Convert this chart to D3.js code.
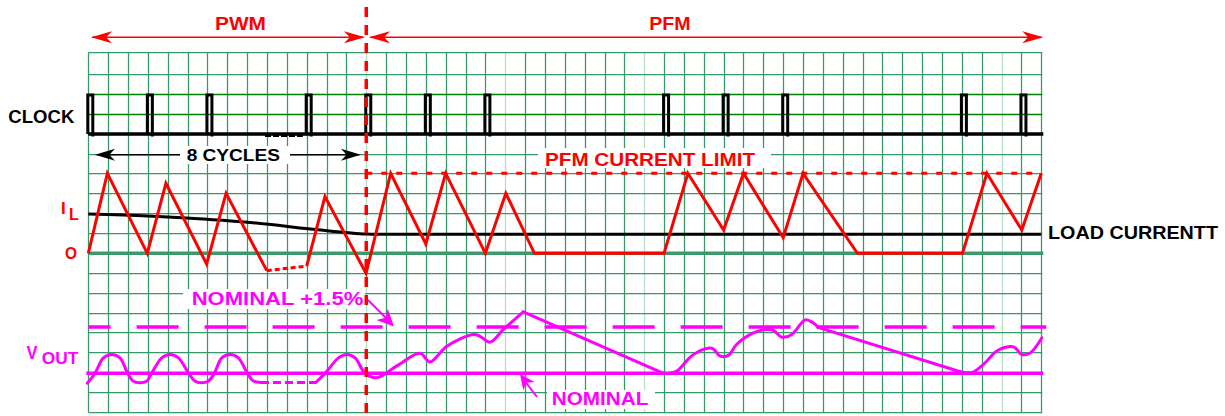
<!DOCTYPE html>
<html><head><meta charset="utf-8">
<script src="https://cdn.jsdelivr.net/npm/d3@7"></script>
<style>body{margin:0;background:#fff}svg{display:block}text{font-family:"Liberation Sans",Arial,Helvetica,sans-serif;font-weight:bold}</style>
</head><body>
<svg id="c" width="1225" height="416"></svg>
<script>
// ---------- data ----------
const gridCols = d3.range(0, 49);          // time divisions
const gridRows = d3.range(0, 18);          // vertical divisions
const darkRows = [1, 2];
const lightCols = [14, 21, 28, 46];
const modeBoundary = 14;                    // PWM -> PFM transition (division)
const clockPulses = [0, 3, 6, 11, 14, 17, 20, 29, 32, 35, 44, 47];
const pfmLimit = 1.0;                       // inductor current, normalised to PFM limit
const ilSolidA = [[0,0],[0.96,1],[2.97,0],[3.91,0.875],[5.96,-0.134],[6.94,0.75],[8.99,-0.217]];
const ilDashed = [[8.99,-0.217],[11.0,-0.159]];
const ilSolidB = [[11.0,-0.159],[11.92,0.708],[13.99,-0.25],[15.23,1],[17.0,0.116],[18.0,1],[20.0,0],[21.03,0.75],[22.47,0],[29.0,0],[30.2,1],[32.0,0.291],[33.0,1],[35.0,0.195],[36.0,1],[38.74,0],[44.03,0],[45.26,1],[47.02,0.291],[48,1]];
const loadFalling = [[0,0.49],[3,0.465],[6,0.425],[8.3,0.383],[11.7,0.29],[14,0.24],[15,0.238]];
const loadSteady = [[15,0.238],[48,0.238]];
const nominalPct = 0, upperPct = 1.5;       // Vout deviation, %
const voutRipplePWM = [[-0.05,-0.32],[0.34,0],[0.76,0.5],[1.18,0.61],[1.6,0.5],[1.98,0],[2.25,-0.25],[2.6,-0.31],[2.95,-0.25],[3.19,0],[3.7,0.5],[4.12,0.61],[4.54,0.5],[5.06,0],[5.36,-0.25],[5.71,-0.31],[6.06,-0.25],[6.35,0],[6.72,0.5],[7.14,0.61],[7.56,0.5],[8.01,0],[8.3,-0.24],[8.7,-0.30]];
const voutDashed = [[8.7,-0.30],[11.45,-0.30]];
const voutRise1 = [[11.45,-0.30],[11.93,0],[12.6,0.5],[13.02,0.61],[13.44,0.5],[13.94,0],[14.53,-0.14],[15.54,0.24],[16.71,0.65],[17.21,0.37],[18.06,0.88],[19.4,1.26],[19.73,1.2],[20.24,1.01],[20.91,1.42],[21.91,1.99]];
const voutDecay1 = [[21.91,1.99],[28.97,0]];
const voutRise2 = [[28.97,0],[29.27,0],[29.64,0.07],[30.48,0.61],[31.41,0.81],[31.82,0.56],[32.24,0.58],[32.66,0.94],[33.5,1.31],[34.18,1.42],[34.51,1.39],[34.93,1.17],[35.44,1.26],[36.11,1.73],[36.52,1.63],[36.76,1.49]];
const voutDecay2 = [[36.76,1.49],[43.92,0.05]];
const voutRise3 = [[43.92,0.05],[44.25,0.02],[44.58,0.04],[45.09,0.29],[45.76,0.72],[46.43,0.87],[46.68,0.83],[47.02,0.61],[47.44,0.66],[48.03,1.15]];

// ---------- scales ----------
const svg = d3.select("#c");
const x  = d3.scaleLinear().domain([0,48]).range([88.3,1041.3]);
const gy = d3.scaleLinear().domain([0,17]).range([74,412]);
const yC = d3.scaleLinear().domain([0,1]).range([134,95]);
const yI = d3.scaleLinear().domain([0,1]).range([253.3,173.3]);
const yV = d3.scaleLinear().domain([0,1.5]).range([373.3,327]);
const RED = "#ff0000", MAG = "#ff00ff", GRID = "#36996a";
const gridTop = 52.5;
const px = v => Math.round(v) + 0.5;

// ---------- grid ----------
const g = svg.append("g");
g.selectAll(".vl").data(gridCols).join("line")
  .attr("x1", d => px(x(d))).attr("x2", d => px(x(d))).attr("y1", gridTop).attr("y2", gy(17))
  .attr("stroke", d => lightCols.includes(d) ? "#b9dcc8" : GRID).attr("stroke-width", 1.25);
g.append("line").attr("x1", x(0)).attr("x2", x(48)+1).attr("y1", gridTop).attr("y2", gridTop)
  .attr("stroke", GRID).attr("stroke-width", 1.25);
g.selectAll(".hl").data(gridRows).join("line")
  .attr("x1", x(0)).attr("x2", x(48)+1).attr("y1", d => px(gy(d))).attr("y2", d => px(gy(d)))
  .attr("stroke", d => darkRows.includes(d) ? "#008000" : GRID).attr("stroke-width", d => darkRows.includes(d) ? 1.5 : 1.25);

// white label boxes over grid
const boxes = [[538,148,233,20],[183,289,182,20],[547,390,108,19]];
svg.selectAll(".bx").data(boxes).join("rect")
  .attr("x", d => d[0]).attr("y", d => d[1]).attr("width", d => d[2]).attr("height", d => d[3]).attr("fill", "#fff");

// ---------- helpers ----------
function arrowHead(tip, from, len, half, color) {
  const dx = tip[0]-from[0], dy = tip[1]-from[1], L = Math.hypot(dx, dy);
  const ux = dx/L, uy = dy/L, qx = -uy, qy = ux;
  const bx = tip[0]-ux*len, by = tip[1]-uy*len;
  const nx = tip[0]-ux*len*0.72, ny = tip[1]-uy*len*0.72;
  svg.append("path")
    .attr("d", `M${tip[0]},${tip[1]}L${bx+qx*half},${by+qy*half}L${nx},${ny}L${bx-qx*half},${by-qy*half}Z`)
    .attr("fill", color);
}
function arrowLine(a, b, color, w) {
  svg.append("line").attr("x1", a[0]).attr("y1", a[1]).attr("x2", b[0]).attr("y2", b[1])
    .attr("stroke", color).attr("stroke-width", w);
}
function label(txt, x0, base, size, color, width) {
  const t = svg.append("text").attr("x", x0).attr("y", base).attr("font-size", size).attr("fill", color).text(txt);
  if (width) t.attr("textLength", width).attr("lengthAdjust", "spacingAndGlyphs");
  return t;
}

// ---------- clock ----------
svg.append("line").attr("x1", x(0)).attr("x2", x(48)+2).attr("y1", yC(0)).attr("y2", yC(0))
  .attr("stroke", "#000").attr("stroke-width", 3.5);
svg.append("line").attr("x1", x(8.9)).attr("x2", x(10.8)).attr("y1", yC(0)+2).attr("y2", yC(0)+2)
  .attr("stroke", "#000").attr("stroke-width", 2).attr("stroke-dasharray", "6,2");
svg.selectAll(".pulse").data(clockPulses).join("path")
  .attr("d", d => `M${x(d)-0.5},${yC(0)}V${yC(1)}H${x(d)+4.5}V${yC(0)+2.5}`)
  .attr("fill", "none").attr("stroke", "#000").attr("stroke-width", 3);

// ---------- inductor current ----------
svg.append("line").attr("x1", x(0)).attr("x2", x(48)+2).attr("y1", yI(0)).attr("y2", yI(0))
  .attr("stroke", "#3a9a6a").attr("stroke-width", 3.5);
const lineI = d3.line().x(d => x(d[0])).y(d => yI(d[1]));
const lineLoad = d3.line().x(d => x(d[0])).y(d => yI(d[1])).curve(d3.curveCatmullRom);
svg.append("path").attr("d", lineLoad(loadFalling)).attr("fill", "none").attr("stroke", "#000").attr("stroke-width", 3);
svg.append("path").attr("d", lineI(loadSteady)).attr("fill", "none").attr("stroke", "#000").attr("stroke-width", 3);
svg.append("line").attr("x1", x(modeBoundary)).attr("x2", x(48)).attr("y1", yI(pfmLimit)).attr("y2", yI(pfmLimit))
  .attr("stroke", RED).attr("stroke-width", 3).attr("stroke-dasharray", "6,9");
svg.append("path").attr("d", lineI(ilSolidA)).attr("fill", "none").attr("stroke", RED).attr("stroke-width", 3);
svg.append("path").attr("d", lineI(ilDashed)).attr("fill", "none").attr("stroke", RED).attr("stroke-width", 3).attr("stroke-dasharray", "5,3");
svg.append("path").attr("d", lineI(ilSolidB)).attr("fill", "none").attr("stroke", RED).attr("stroke-width", 3);

// ---------- output voltage ----------
svg.append("line").attr("x1", x(0)-2).attr("x2", x(48)+2).attr("y1", yV(nominalPct)).attr("y2", yV(nominalPct))
  .attr("stroke", MAG).attr("stroke-width", 3.5);
svg.append("line").attr("x1", x(0)).attr("x2", x(48)+5).attr("y1", yV(upperPct)).attr("y2", yV(upperPct))
  .attr("stroke", MAG).attr("stroke-width", 3.5).attr("stroke-dasharray", "42,26").attr("stroke-dashoffset", 19.7);
const smoothV = d3.line().x(d => x(d[0])).y(d => yV(d[1])).curve(d3.curveCatmullRom.alpha(0.5));
const straightV = d3.line().x(d => x(d[0])).y(d => yV(d[1]));
[voutRipplePWM, voutRise1, voutRise2, voutRise3].forEach(s =>
  svg.append("path").attr("d", smoothV(s)).attr("fill", "none").attr("stroke", MAG).attr("stroke-width", 3).attr("stroke-linecap", "round"));
[voutDecay1, voutDecay2].forEach(s =>
  svg.append("path").attr("d", straightV(s)).attr("fill", "none").attr("stroke", MAG).attr("stroke-width", 3).attr("stroke-linecap", "round"));
svg.append("path").attr("d", straightV(voutDashed)).attr("fill", "none").attr("stroke", MAG).attr("stroke-width", 3).attr("stroke-dasharray", "8,4");

// ---------- mode boundary ----------
svg.append("line").attr("x1", x(modeBoundary)).attr("x2", x(modeBoundary)).attr("y1", 7).attr("y2", 414)
  .attr("stroke", RED).attr("stroke-width", 3.5).attr("stroke-dasharray", "10,8");

// ---------- arrows ----------
const yArr = 37.3;
arrowLine([x(0)+4, yArr], [x(modeBoundary)-3, yArr], RED, 1.6);
arrowHead([x(0)+2.7, yArr], [x(5), yArr], 21, 6, RED);
arrowHead([x(modeBoundary)-1.3, yArr], [x(9), yArr], 21, 6, RED);
arrowLine([x(modeBoundary)+4, yArr], [x(48), yArr], RED, 1.6);
arrowHead([x(modeBoundary)+2.7, yArr], [x(20), yArr], 21, 6, RED);
arrowHead([x(48)+2, yArr], [x(40), yArr], 21, 6, RED);

const yCyc = 154.7;
arrowLine([x(0)+9, yCyc], [x(modeBoundary)-8, yCyc], "#000", 1.6);
arrowHead([x(0)+6.7, yCyc], [x(5), yCyc], 20, 6, "#000");
arrowHead([x(modeBoundary)-5.3, yCyc], [x(9), yCyc], 20, 6, "#000");
svg.append("rect").attr("x", 180).attr("y", 146).attr("width", 110).attr("height", 18).attr("fill", "#fff");

arrowLine([368, 300], [388, 320], MAG, 2);
arrowHead([394, 326.5], [368, 300], 17, 8, MAG);
arrowLine([537, 397], [524, 380], MAG, 2);
arrowHead([520, 374], [537, 397], 15, 7, MAG);

// ---------- labels ----------
label("PWM", 215, 29.5, 18, RED, 51);
label("PFM", 649.3, 30, 18, RED, 41.3);
label("CLOCK", 8.3, 123.3, 18, "#000", 66);
label("8 CYCLES", 186.7, 160.7, 17, "#000", 93.3);
label("PFM CURRENT LIMIT", 545, 165.7, 18, RED, 210);
label("I", 61, 214, 17, RED);
label("L", 69, 220, 16, RED);
label("O", 65, 259, 16, RED, 12);
label("LOAD CURRENTT", 1048, 239.3, 18, "#000", 170);
label("V", 26.5, 358.5, 19, MAG, 11);
label("OUT", 41.7, 363.5, 16, MAG, 36.6);
label("NOMINAL +1.5%", 191.7, 305.3, 18, MAG, 171.6);
label("NOMINAL", 551.7, 405.3, 18, MAG, 96.6);
</script>
</body></html>
